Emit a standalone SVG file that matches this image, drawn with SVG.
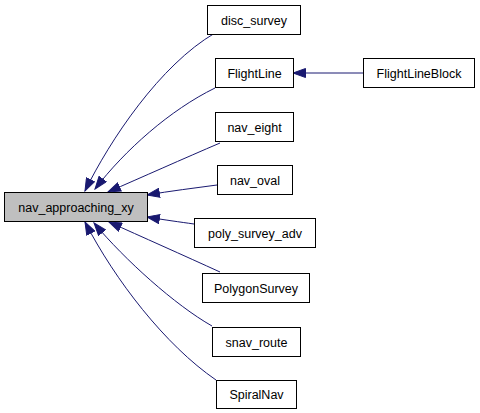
<svg xmlns="http://www.w3.org/2000/svg" width="480" height="413" viewBox="0 0 480 413">
<style>
.n rect{fill:#fff;stroke:#000;stroke-width:1}
.n text{font-family:"Liberation Sans",Arial,sans-serif;font-size:12.5px;text-anchor:middle;fill:#000}
#main rect{fill:#bfbfbf}
.e path{fill:none;stroke:#191970;stroke-width:1;marker-end:url(#ah)}
</style>
<defs>
<marker id="ah" markerUnits="userSpaceOnUse" markerWidth="14" markerHeight="10" refX="13" refY="5" orient="auto">
<path d="M0.5,0.5 L13,5 L0.5,9.5 Z" fill="#191970" stroke="#191970"/>
</marker>
</defs>
<rect width="480" height="413" fill="#fff"/>
<g id="edges" class="e">
<path d="M215,33 C160,65 110,140 85,191"/>
<path d="M215,88 C170,110 125,150 95,189"/>
<path d="M220,143 C185,158 140,178 108,192"/>
<path d="M217,185 C195,188 170,191 147,195"/>
<path d="M194,224 C180,222 165,220 147,217"/>
<path d="M220,272 C185,256 140,236 109,222"/>
<path d="M212,326 C175,305 125,260 94,223"/>
<path d="M216,380 C165,345 115,280 85,222"/>
<path d="M363,73 L293,73"/>
</g>
<g id="main" class="n"><rect x="4.5" y="192.5" width="143" height="29"/><text x="76" y="211.5">nav_approaching_xy</text></g>
<g id="disc_survey" class="n"><rect x="207.5" y="5.5" width="93" height="29"/><text x="254" y="24.5">disc_survey</text></g>
<g id="FlightLine" class="n"><rect x="215.5" y="58.5" width="78" height="29"/><text x="254.5" y="77.5">FlightLine</text></g>
<g id="FlightLineBlock" class="n"><rect x="363.5" y="58.5" width="111" height="29"/><text x="419" y="77.5">FlightLineBlock</text></g>
<g id="nav_eight" class="n"><rect x="215.5" y="112.5" width="78" height="29"/><text x="254.5" y="131.5">nav_eight</text></g>
<g id="nav_oval" class="n"><rect x="217.5" y="165.5" width="75" height="29"/><text x="255" y="184.5">nav_oval</text></g>
<g id="poly_survey_adv" class="n"><rect x="194.5" y="218.5" width="121" height="29"/><text x="255" y="237.5">poly_survey_adv</text></g>
<g id="PolygonSurvey" class="n"><rect x="202.5" y="273.5" width="107" height="29"/><text x="256" y="292.5">PolygonSurvey</text></g>
<g id="snav_route" class="n"><rect x="212.5" y="327.5" width="88" height="29"/><text x="256.5" y="346.5">snav_route</text></g>
<g id="SpiralNav" class="n"><rect x="216.5" y="380.5" width="80" height="28"/><text x="256.5" y="399">SpiralNav</text></g>
</svg>
